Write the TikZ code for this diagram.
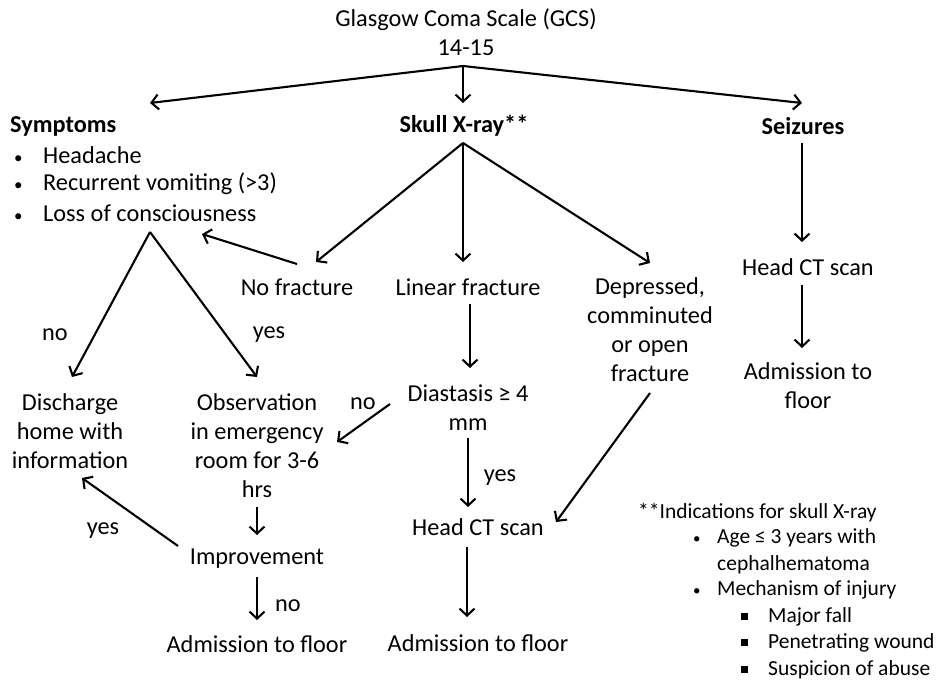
\documentclass[tikz,border=0pt]{standalone}
\usepackage{fontspec}
\setmainfont{Carlito}
\usetikzlibrary{arrows.meta}

\newcommand{\mainfs}{\fontsize{24.3}{29}\selectfont}
\newcommand{\notefs}{\fontsize{21.5}{26.5}\selectfont}
\newcommand{\bul}{\makebox[29pt][l]{\fontsize{17}{17}\selectfont\textbullet}}
\newcommand{\nbul}{\makebox[24pt][l]{\fontsize{15}{15}\selectfont\textbullet}}
\newcommand{\sqbul}{\makebox[27pt][l]{\rule[3pt]{7pt}{7pt}}}

\begin{document}
\begin{tikzpicture}[x=1pt, y=-1pt,
  every node/.style={font=\mainfs, inner sep=0pt, align=center},
  item/.style={anchor=west, align=left},
  note/.style={anchor=west, align=left, font=\notefs},
  arr/.style={line width=2.1pt, -{Straight Barb[length=7pt,width=15pt]}}]

\useasboundingbox (0,0) rectangle (940,683);

\node (gcs) at (466,32) {Glasgow Coma Scale (GCS)\\14-15};
\coordinate (fork) at ([shift={(-3,34)}]gcs.center);

\node[anchor=west] (symptoms) at (10,126) {\textbf{Symptoms}};
\coordinate (symin) at (150,103);
\node[item] (headache) at (14,155) {\bul Headache};
\node[item] (vomit) at (14,184) {\bul Recurrent vomiting (>3)};
\node[item] (loss) at (14,213) {\bul Loss of consciousness};
\coordinate (lossfork) at ([shift={(136,19)}]loss.west);

\node (xray) at (464,126) {\textbf{Skull X-ray**}};
\node (seiz) at (803,126) {\textbf{Seizures}};

\node (nofrac) at (297,287) {No fracture};
\node (linfrac) at (468,287) {Linear fracture};
\node (depr) at (650,330) {Depressed,\\comminuted\\or open\\fracture};
\node (ctright) at (808,267) {Head CT scan};
\node (admright) at (808,386) {Admission to\\floor};

\node (disch) at (70,431) {Discharge\\home with\\information};
\node (obs) at (257,446) {Observation\\in emergency\\room for 3-6\\hrs};
\node (diast) at (468,408) {Diastasis ≥ 4\\mm};
\node (ctmid) at (478,527) {Head CT scan};
\node (admmid) at (478,643) {Admission to floor};
\node (improve) at (257,559) {Improvement};
\node (admleft) at (257,644) {Admission to floor};

\node (nodisch) at (55,335) {no};
\node (yesobs) at (269,335) {yes};
\node (nodiast) at (363,404) {no};
\node (yesdiast) at (500,478) {yes};
\node (yesimp) at (103,531) {yes};
\node (noimp) at (288,606) {no};

\node[note] (indic) at (638,513) {**Indications for skull X-ray};
\node[note] (age) at (693,538) {\nbul Age ≤ 3 years with};
\node[note] (cephal) at (717,565) {cephalhematoma};
\node[note] (mech) at (693,590) {\nbul Mechanism of injury};
\node[note] (fall) at (741,617) {\sqbul Major fall};
\node[note] (wound) at (741,643) {\sqbul Penetrating wound};
\node[note] (abuse) at (741,670) {\sqbul Suspicion of abuse};

\draw[arr] (fork) -- (symin);
\draw[arr] (fork) -- ([shift={(-1,-23)}]xray.center);
\draw[arr] (fork) -- ([shift={(-1,-23)}]seiz.center);

\draw[arr] ([shift={(-1,17)}]seiz.center) -- ([shift={(-6,-25)}]ctright.center);
\draw[arr] ([shift={(-6,18)}]ctright.center) -- ([shift={(-6,-38)}]admright.center);

\draw[arr] ([shift={(-1,17)}]xray.center) -- ([shift={(19,-25)}]nofrac.center);
\draw[arr] ([shift={(-1,17)}]xray.center) -- ([shift={(-5,-25)}]linfrac.center);
\draw[arr] ([shift={(-1,17)}]xray.center) -- ([shift={(0,-67)}]depr.center);

\draw[arr] ([shift={(0,-23)}]nofrac.center) -- ([shift={(188,21)}]loss.west);
\draw[arr] (lossfork) -- ([shift={(2,-54)}]disch.center);
\draw[arr] (lossfork) -- ([shift={(0,-69)}]obs.center);

\draw[arr] ([shift={(2,17)}]linfrac.center) -- ([shift={(2,-40)}]diast.center);
\draw[arr] ([shift={(-78,-4)}]diast.center) -- ([shift={(80,-4)}]obs.center);
\draw[arr] ([shift={(0,30)}]diast.center) -- ([shift={(-10,-20)}]ctmid.center);
\draw[arr] ([shift={(0,63)}]depr.center) -- ([shift={(78,-5)}]ctmid.center);
\draw[arr] ([shift={(-11,20)}]ctmid.center) -- ([shift={(-11,-26)}]admmid.center);

\draw[arr] ([shift={(0,61)}]obs.center) -- ([shift={(0,-24)}]improve.center);
\draw[arr] ([shift={(-79,-13)}]improve.center) -- ([shift={(12,47)}]disch.center);
\draw[arr] ([shift={(0,18)}]improve.center) -- ([shift={(0,-24)}]admleft.center);
\end{tikzpicture}
\end{document}
